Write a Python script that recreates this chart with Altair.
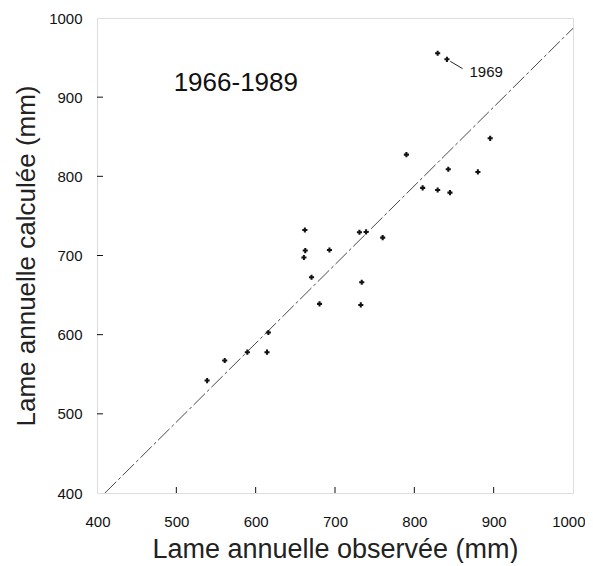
import altair as alt
import pandas as pd

# Observed vs calculated annual runoff (mm), 1966-1989
observed = [538.8, 561, 589.5, 614.3, 616, 662, 662.5, 660.8, 693, 670.4, 680.5,
            730.8, 739.2, 760.1, 733.7, 732.5, 810.5, 829.4, 844.9, 829.4, 841.1,
            790, 895.6, 842.8, 880.1]
calculated = [542, 567.3, 577.9, 577.9, 602.7, 732.3, 706.2, 697.4, 707, 672.6, 638.9,
              729.4, 729.8, 722.6, 666.3, 637.6, 785.4, 782.8, 779.4, 955.4, 947.8,
              827.4, 848, 808.9, 805.6]

tick_values = [400, 500, 600, 700, 800, 900, 1000]
inner_ticks = [500, 600, 700, 800, 900]

line_x = [410, 1000]
line_y = [400, 987]

period_label = ["1966-1989"]
period_x = [575]
period_y = [918]

year_label = ["1969"]
year_x = [890.6]
year_y = [931.8]
leader_x = [845.3]
leader_y = [945.3]
leader_x2 = [860.8]
leader_y2 = [936]

W, H = 476, 475

pts = pd.DataFrame({"obs": observed, "calc": calculated})
line_df = pd.DataFrame({"obs": line_x, "calc": line_y})
ticks_df = pd.DataFrame({"v": inner_ticks})
period_df = pd.DataFrame({"t": period_label, "obs": period_x, "calc": period_y})
year_df = pd.DataFrame({"t": year_label, "obs": year_x, "calc": year_y})
leader_df = pd.DataFrame({"obs": leader_x, "calc": leader_y, "obs2": leader_x2, "calc2": leader_y2})

FONT = "Liberation Sans"

xscale = alt.Scale(domain=[400, 1000], nice=False, zero=False)
yscale = alt.Scale(domain=[400, 1000], nice=False, zero=False)

xaxis = alt.Axis(values=tick_values, format="d", ticks=False, tickSize=0, grid=False,
                 domain=False, labelPadding=21, labelFontSize=15, labelFont=FONT,
                 labelColor="#111", title="Lame annuelle observée (mm)", titleFont=FONT,
                 titleFontSize=27, titleFontWeight="normal", titleColor="#222", titleY=64,
                 titleBaseline="alphabetic", labelFlush=True, labelFlushOffset=12,
                 labelOverlap=False)
yaxis = alt.Axis(values=tick_values, format="d", ticks=False, tickSize=0, grid=False,
                 domain=False, labelPadding=15, labelFontSize=15, labelFont=FONT,
                 labelColor="#111", title="Lame annuelle calculée (mm)", titleFont=FONT,
                 titleFontSize=26, titleFontWeight="normal", titleColor="#222",
                 titleX=-63, titleY=H / 2, titleBaseline="alphabetic", titleAlign="center",
                 labelFlush=False, labelOverlap=False)

base_x = alt.X("obs:Q", scale=xscale, axis=xaxis)
base_y = alt.Y("calc:Q", scale=yscale, axis=yaxis)

diag = alt.Chart(line_df).mark_line(color="#333", strokeWidth=0.9,
                                    strokeDash=[16, 3, 3, 3]).encode(x=base_x, y=base_y)

points = alt.Chart(pts).mark_point(shape="cross", filled=True, color="#111",
                                   size=26, opacity=1).encode(
    x=alt.X("obs:Q", scale=xscale), y=alt.Y("calc:Q", scale=yscale))

xt = alt.Chart(ticks_df).mark_rule(color="#111", strokeWidth=1).encode(
    x=alt.X("v:Q", scale=xscale), y=alt.value(H), y2=alt.value(H - 6))
yt = alt.Chart(ticks_df).mark_rule(color="#111", strokeWidth=1).encode(
    y=alt.Y("v:Q", scale=yscale), x=alt.value(0), x2=alt.value(6))

period = alt.Chart(period_df).mark_text(font=FONT, fontSize=26, color="#111",
                                        align="center", baseline="middle").encode(
    x=alt.X("obs:Q", scale=xscale), y=alt.Y("calc:Q", scale=yscale), text="t:N")

year = alt.Chart(year_df).mark_text(font=FONT, fontSize=15, color="#111",
                                    align="center", baseline="middle").encode(
    x=alt.X("obs:Q", scale=xscale), y=alt.Y("calc:Q", scale=yscale), text="t:N")

leader = alt.Chart(leader_df).mark_rule(color="#222", strokeWidth=1).encode(
    x=alt.X("obs:Q", scale=xscale), y=alt.Y("calc:Q", scale=yscale),
    x2="obs2:Q", y2="calc2:Q")

chart = alt.layer(diag, points, xt, yt, period, year, leader).properties(
    width=W, height=H,
    autosize=alt.AutoSizeParams(type="none"),
    padding={"left": 89, "top": 10, "right": 12, "bottom": 70},
).configure_view(stroke="#111", strokeWidth=1).configure(background="white")

chart.save("out.html", embed_options={"renderer": "svg", "actions": False})
